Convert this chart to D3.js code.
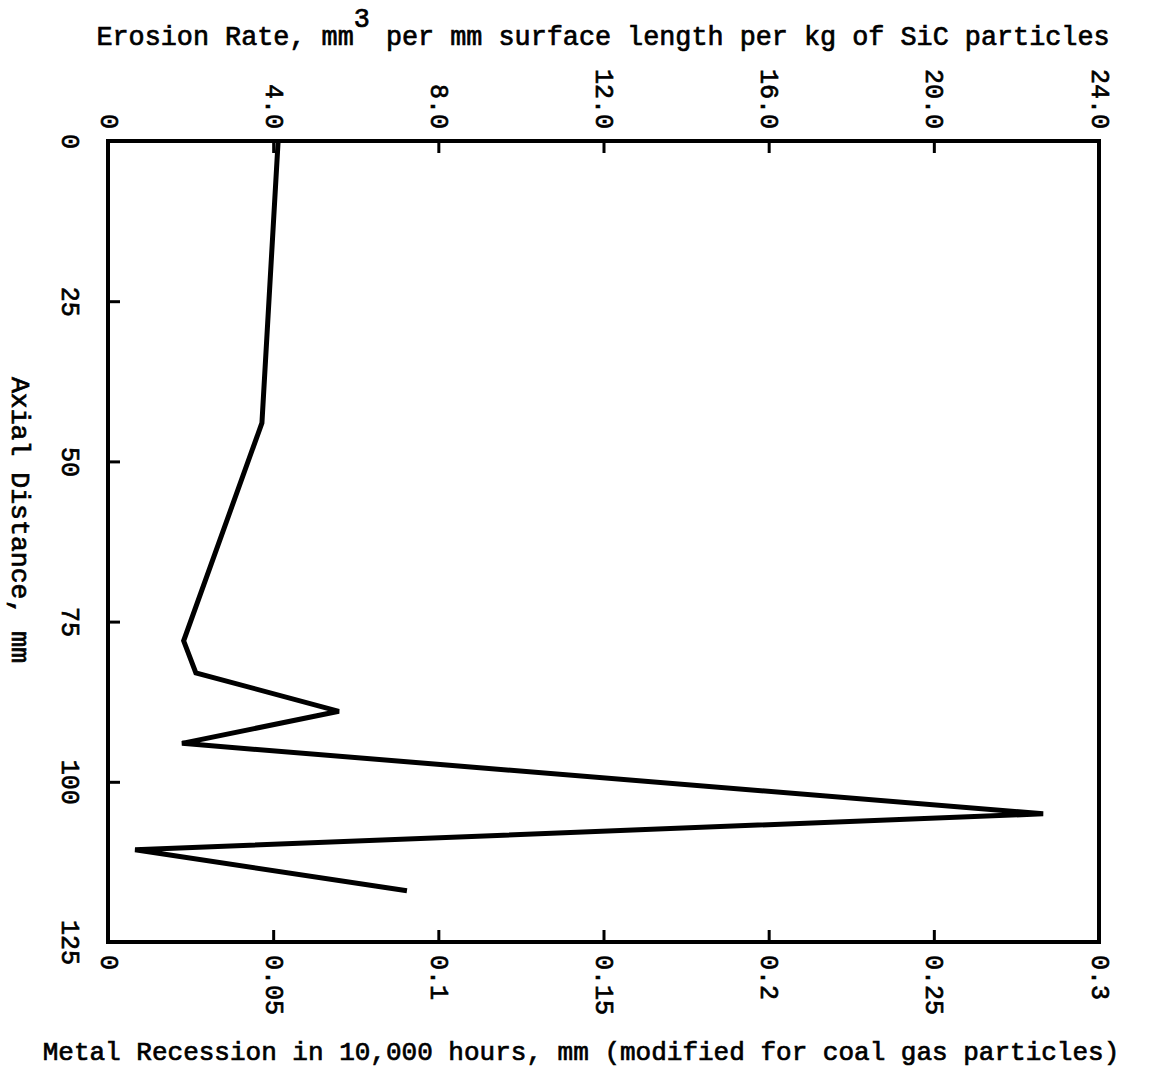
<!DOCTYPE html>
<html>
<head>
<meta charset="utf-8">
<script src="https://cdn.jsdelivr.net/npm/d3@7"></script>
<style>
  html, body { margin: 0; padding: 0; background: #fff; }
  svg { display: block; }
  text { font-family: "Liberation Mono", "DejaVu Sans Mono", monospace; fill: #000; stroke: #000; stroke-width: 0.7px; }
</style>
</head>
<body>
<svg id="chart" width="1160" height="1080"></svg>
<script>
// ---- data ----
const axialDistance = [0, 44, 78, 83, 89, 94, 105, 110.6, 117];
const metalRecession = [0.0515, 0.0466, 0.0229, 0.0266, 0.0699, 0.0224, 0.2831, 0.0082, 0.0905];
const leftTicks = [0, 25, 50, 75, 100, 125];
const leftTickLabels = ["0", "25", "50", "75", "100", "125"];
const bottomTicks = [0, 0.05, 0.1, 0.15, 0.2, 0.25, 0.3];
const bottomTickLabels = ["0", "0.05", "0.1", "0.15", "0.2", "0.25", "0.3"];
const topTicks = [0, 4, 8, 12, 16, 20, 24];
const topTickLabels = ["0", "4.0", "8.0", "12.0", "16.0", "20.0", "24.0"];
const titleTop = ["Erosion Rate, mm", "3", " per mm surface length per kg of SiC particles"];
const titleBottom = "Metal Recession in 10,000 hours, mm (modified for coal gas particles)";
const titleLeft = "Axial Distance, mm";

// ---- layout ----
const L = 108, R = 1099, T = 141, B = 942;
const svg = d3.select("#chart");

const y = d3.scaleLinear().domain([0, 125]).range([T, B]);
const xB = d3.scaleLinear().domain([0, 0.3]).range([L, R]);
const xT = d3.scaleLinear().domain([0, 24]).range([L, R]);

const tickFont = 25;

// Top axis (erosion rate)
const gTop = svg.append("g").attr("transform", `translate(0,${T})`)
  .call(d3.axisTop(xT).tickValues(topTicks).tickSizeInner(-12).tickSizeOuter(0)
    .tickFormat((d, i) => topTickLabels[i]));
gTop.select(".domain").remove();
gTop.selectAll(".tick line").attr("stroke", "#000").attr("stroke-width", 3);
gTop.selectAll(".tick text")
  .attr("font-size", tickFont).attr("font-family", "Liberation Mono")
  .attr("x", 0).attr("y", 0).attr("dy", "0.32em")
  .attr("text-anchor", "end")
  .attr("transform", "translate(0,-12) rotate(90)");

// Bottom axis (metal recession)
const gBot = svg.append("g").attr("transform", `translate(0,${B})`)
  .call(d3.axisBottom(xB).tickValues(bottomTicks).tickSizeInner(-12).tickSizeOuter(0)
    .tickFormat((d, i) => bottomTickLabels[i]));
gBot.select(".domain").remove();
gBot.selectAll(".tick line").attr("stroke", "#000").attr("stroke-width", 3);
gBot.selectAll(".tick text")
  .attr("font-size", tickFont).attr("font-family", "Liberation Mono")
  .attr("x", 0).attr("y", 0).attr("dy", "0.32em")
  .attr("text-anchor", "start")
  .attr("transform", "translate(0,13) rotate(90)");

// Left axis (axial distance)
const gLeft = svg.append("g").attr("transform", `translate(${L},0)`)
  .call(d3.axisLeft(y).tickValues(leftTicks).tickSizeInner(-12).tickSizeOuter(0)
    .tickFormat((d, i) => leftTickLabels[i]));
gLeft.select(".domain").remove();
gLeft.selectAll(".tick line").attr("stroke", "#000").attr("stroke-width", 3);
gLeft.selectAll(".tick text")
  .attr("font-size", tickFont).attr("font-family", "Liberation Mono")
  .attr("x", 0).attr("y", 0).attr("dy", "0.32em")
  .attr("text-anchor", "middle")
  .attr("transform", "translate(-38,0) rotate(90)");

// Frame
svg.append("rect")
  .attr("x", L).attr("y", T).attr("width", R - L).attr("height", B - T)
  .attr("fill", "none").attr("stroke", "#000").attr("stroke-width", 4);

// Data line
const pts = axialDistance.map((a, i) => [metalRecession[i], a]);
const line = d3.line().x(d => xB(d[0])).y(d => y(d[1]));
svg.append("path")
  .datum(pts)
  .attr("d", line)
  .attr("fill", "none")
  .attr("stroke", "#000")
  .attr("stroke-width", 5)
  .attr("stroke-linejoin", "miter")
  .attr("stroke-miterlimit", 3);

// Titles
const tt = svg.append("text")
  .attr("x", 603).attr("y", 45)
  .attr("text-anchor", "middle")
  .attr("font-size", 26.8);
tt.append("tspan").text(titleTop[0]);
tt.append("tspan").attr("dy", -18).text(titleTop[1]);
tt.append("tspan").attr("dy", 18).text(titleTop[2]);

svg.append("text")
  .attr("x", 581).attr("y", 1060)
  .attr("text-anchor", "middle")
  .attr("font-size", 26)
  .text(titleBottom);

svg.append("text")
  .attr("transform", "translate(20,520) rotate(90)")
  .attr("text-anchor", "middle")
  .attr("dy", "0.32em")
  .attr("font-size", 26.5)
  .text(titleLeft);
</script>
</body>
</html>
